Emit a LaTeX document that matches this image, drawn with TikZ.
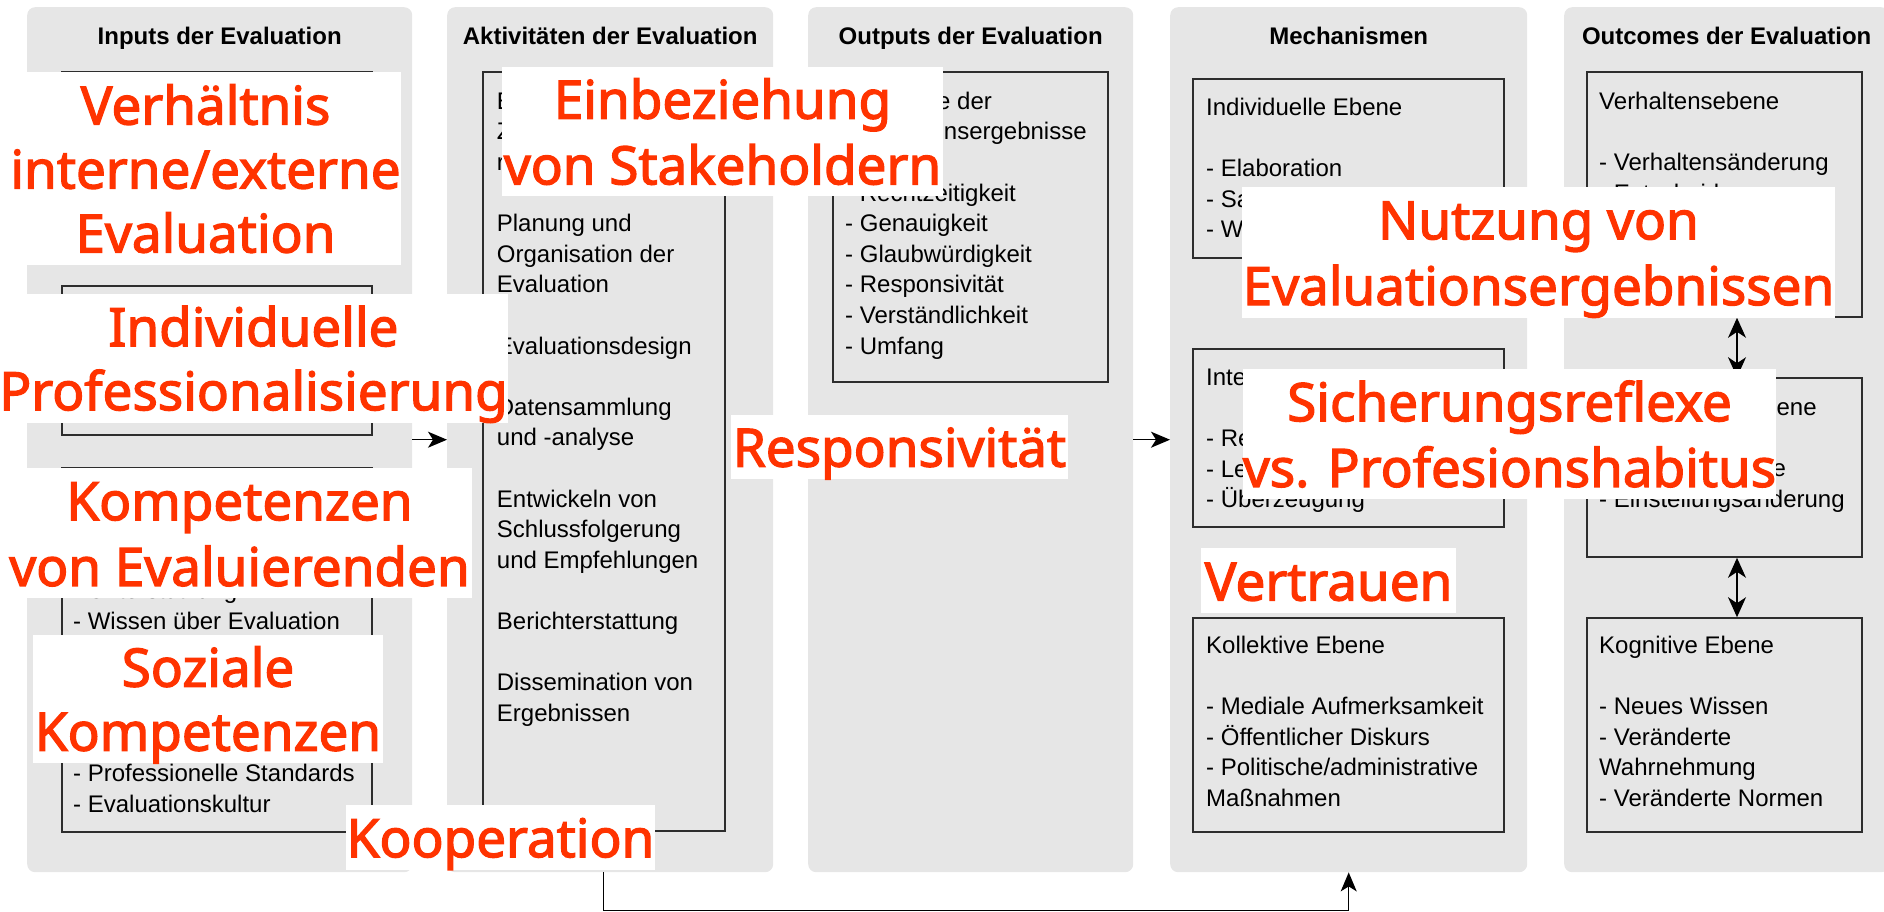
\documentclass[tikz,border=0pt]{standalone}
\usepackage{fontspec}
\setmainfont{Liberation Sans}
\newfontfamily\markfont{Noto Sans}[AutoFakeBold=2.4]
\usetikzlibrary{arrows.meta, positioning, calc}
\definecolor{panelgray}{RGB}{230,230,230}
\definecolor{boxline}{RGB}{45,45,45}
\definecolor{markred}{RGB}{255,51,0}
\newcommand{\ostrut}{\rule[-12pt]{0pt}{64pt}}
\tikzset{
    panel/.style={rectangle, rounded corners=8pt, fill=panelgray, anchor=north west, inner sep=0pt, minimum height=865pt},
    header/.style={anchor=base, font=\bfseries\fontsize{24}{29}\selectfont},
    level/.style={rectangle, draw=boxline, line width=1.6pt, fill=panelgray, inner sep=0pt},
    entry/.style={anchor=north west, inner sep=0pt, align=left, font=\fontsize{24}{30.6}\selectfont},
    marker/.style={rectangle, fill=white, inner sep=0pt, align=center, text=markred, font=\markfont\bfseries\fontsize{53}{64}\selectfont},
    arrow/.style={-{Stealth[length=19pt, width=16pt, inset=5pt]}, line width=1.3pt},
    twoway/.style={{Stealth[length=20pt, width=18pt, inset=6pt]}-{Stealth[length=20pt, width=18pt, inset=6pt]}, line width=1.3pt},
}
\begin{document}
\begin{tikzpicture}[x=1pt, y=-1pt]
    \useasboundingbox (0,0) rectangle (1884,911);
    % columns
    \node[panel, minimum width=385pt] (inputs) at (27,7) {};
    \node[panel, minimum width=326pt] (activ) at (447,7) {};
    \node[panel, minimum width=325pt] (outputs) at (808,7) {};
    \node[panel, minimum width=357pt] (mech) at (1170,7) {};
    \node[panel, minimum width=325pt] (outcomes) at (1564,7) {};
    \node[header] at ([yshift=-37pt]inputs.north) {Inputs der Evaluation};
    \node[header] at ([yshift=-37pt]activ.north) {Aktivitäten der Evaluation};
    \node[header] at ([yshift=-37pt]outputs.north) {Outputs der Evaluation};
    \node[header] at ([yshift=-37pt]mech.north) {Mechanismen};
    \node[header] at ([yshift=-37pt]outcomes.north) {Outcomes der Evaluation};

    % inputs
    \node[level, minimum width=310pt, minimum height=183pt] (input1) at (217,163.5) {};
    \node[level, minimum width=310pt, minimum height=149pt] (input2) at (217,360.5) {};
    \node[level, minimum width=310pt, minimum height=364pt] (input3) at (217,650) {};
    \node[entry] (input3-top) at (73,577.3) {\strut- Unterstützung\\- Wissen über Evaluation};
    \node[entry] (input3-bottom) at (73,760.3) {\strut- Professionelle Standards\\- Evaluationskultur};

    % activities
    \node[level, minimum width=242pt, minimum height=759pt] (steps) at (604,451.5) {};
    \node[entry] (steps-text) at (496.7,87.6) {\strut E\\Z\\r\\[30.6pt]Planung und\\Organisation der\\Evaluation\\[30.6pt]Evaluationsdesign\\[30.6pt]Datensammlung\\und -analyse\\[30.6pt]Entwickeln von\\Schlussfolgerung\\und Empfehlungen\\[30.6pt]Berichterstattung\\[30.6pt]Dissemination von\\Ergebnissen};

    % outputs
    \node[level, minimum width=275pt, minimum height=310pt] (quality) at (970.5,227) {};
    \node[entry] (quality-text) at (845,87.6) {\strut Merkmale der\\Evaluationsergebnisse\\[30.6pt]- Rechtzeitigkeit\\- Genauigkeit\\- Glaubwürdigkeit\\- Responsivität\\- Verständlichkeit\\- Umfang};

    % mechanisms
    \node[level, minimum width=311pt, minimum height=179pt] (indiv) at (1348.5,168.5) {};
    \node[level, minimum width=311pt, minimum height=178pt] (inter) at (1348.5,438) {};
    \node[level, minimum width=311pt, minimum height=214pt] (collect) at (1348.5,725) {};
    \node[entry] (indiv-text) at (1206,93.6) {\strut Individuelle Ebene\\[30.6pt]- Elaboration\\- Sa\\- W};
    \node[entry] (inter-text) at (1206,363.6) {\strut Inte\\[30.6pt]- Re\\- Le\\- Überzeugung};
    \node[entry] (collect-text) at (1206,631.6) {\strut Kollektive Ebene\\[30.6pt]- Mediale Aufmerksamkeit\\- Öffentlicher Diskurs\\- Politische/administrative\\Maßnahmen};

    % outcomes
    \node[level, minimum width=275pt, minimum height=245pt] (behav) at (1724.5,194.5) {};
    \node[level, minimum width=275pt, minimum height=179pt] (attit) at (1724.5,467.5) {};
    \node[level, minimum width=275pt, minimum height=214pt] (cogn) at (1724.5,725) {};
    \node[entry] (behav-text) at (1599,87.6) {\strut Verhaltensebene\\[30.6pt]- Verhaltensänderung\\- Entscheidungen};
    \node[entry] (attit-text) at (1599,393.6) {\strut Motivationale Ebene\\[30.6pt]- Geänderte Ziele\\- Einstellungsänderung};
    \node[entry] (cogn-text) at (1599,631.6) {\strut Kognitive Ebene\\[30.6pt]- Neues Wissen\\- Veränderte\\Wahrnehmung\\- Veränderte Normen};

    % connectors
    \draw[arrow] (inputs.east) -- (activ.west);
    \draw[arrow] (outputs.east) -- (mech.west);
    \draw[arrow] ([xshift=-7pt]activ.south) -- ++(0,38) -| (mech.south);
    \draw[twoway] ([xshift=12.5pt]behav.south) -- ([xshift=12.5pt]attit.north);
    \draw[twoway] ([xshift=12.5pt]attit.south) -- ([xshift=12.5pt]cogn.north);

    % highlighted factors
    \node[marker, minimum width=391pt, minimum height=193pt] (ratio) at (205.5,168.5) {\ostrut Verhältnis\\\ostrut interne/externe\\\ostrut Evaluation};
    \node[marker, minimum width=507pt, minimum height=129pt] (profess) at (253.5,358.5) {\ostrut Individuelle\\\ostrut Professionalisierung};
    \node[marker, minimum width=465pt, minimum height=128pt] (skills) at (239.5,533) {\ostrut Kompetenzen\\\ostrut von Evaluierenden};
    \node[marker, minimum width=350pt, minimum height=128pt] (social) at (208,699) {\ostrut Soziale\\\ostrut Kompetenzen};
    \node[marker, minimum width=309pt, minimum height=65pt] (coop) at (500.5,837.5) {\ostrut Kooperation};
    \node[marker, minimum width=441pt, minimum height=129pt] (stake) at (722.5,131.5) {\ostrut Einbeziehung\\\ostrut von Stakeholdern};
    \node[marker, minimum width=337pt, minimum height=64pt] (respons) at (899.5,447) {\ostrut Responsivität};
    \node[marker, minimum width=593pt, minimum height=129pt] (usage) at (1538.5,252.5) {\ostrut Nutzung von\\\ostrut Evaluationsergebnissen};
    \node[marker, minimum width=531pt, minimum height=128pt] (reflex) at (1509.5,434) {\ostrut Sicherungsreflexe\\\ostrut vs. Profesionshabitus};
    \node[marker, minimum width=255pt, minimum height=65pt] (trust) at (1328.5,580.5) {\ostrut Vertrauen};
\end{tikzpicture}
\end{document}
